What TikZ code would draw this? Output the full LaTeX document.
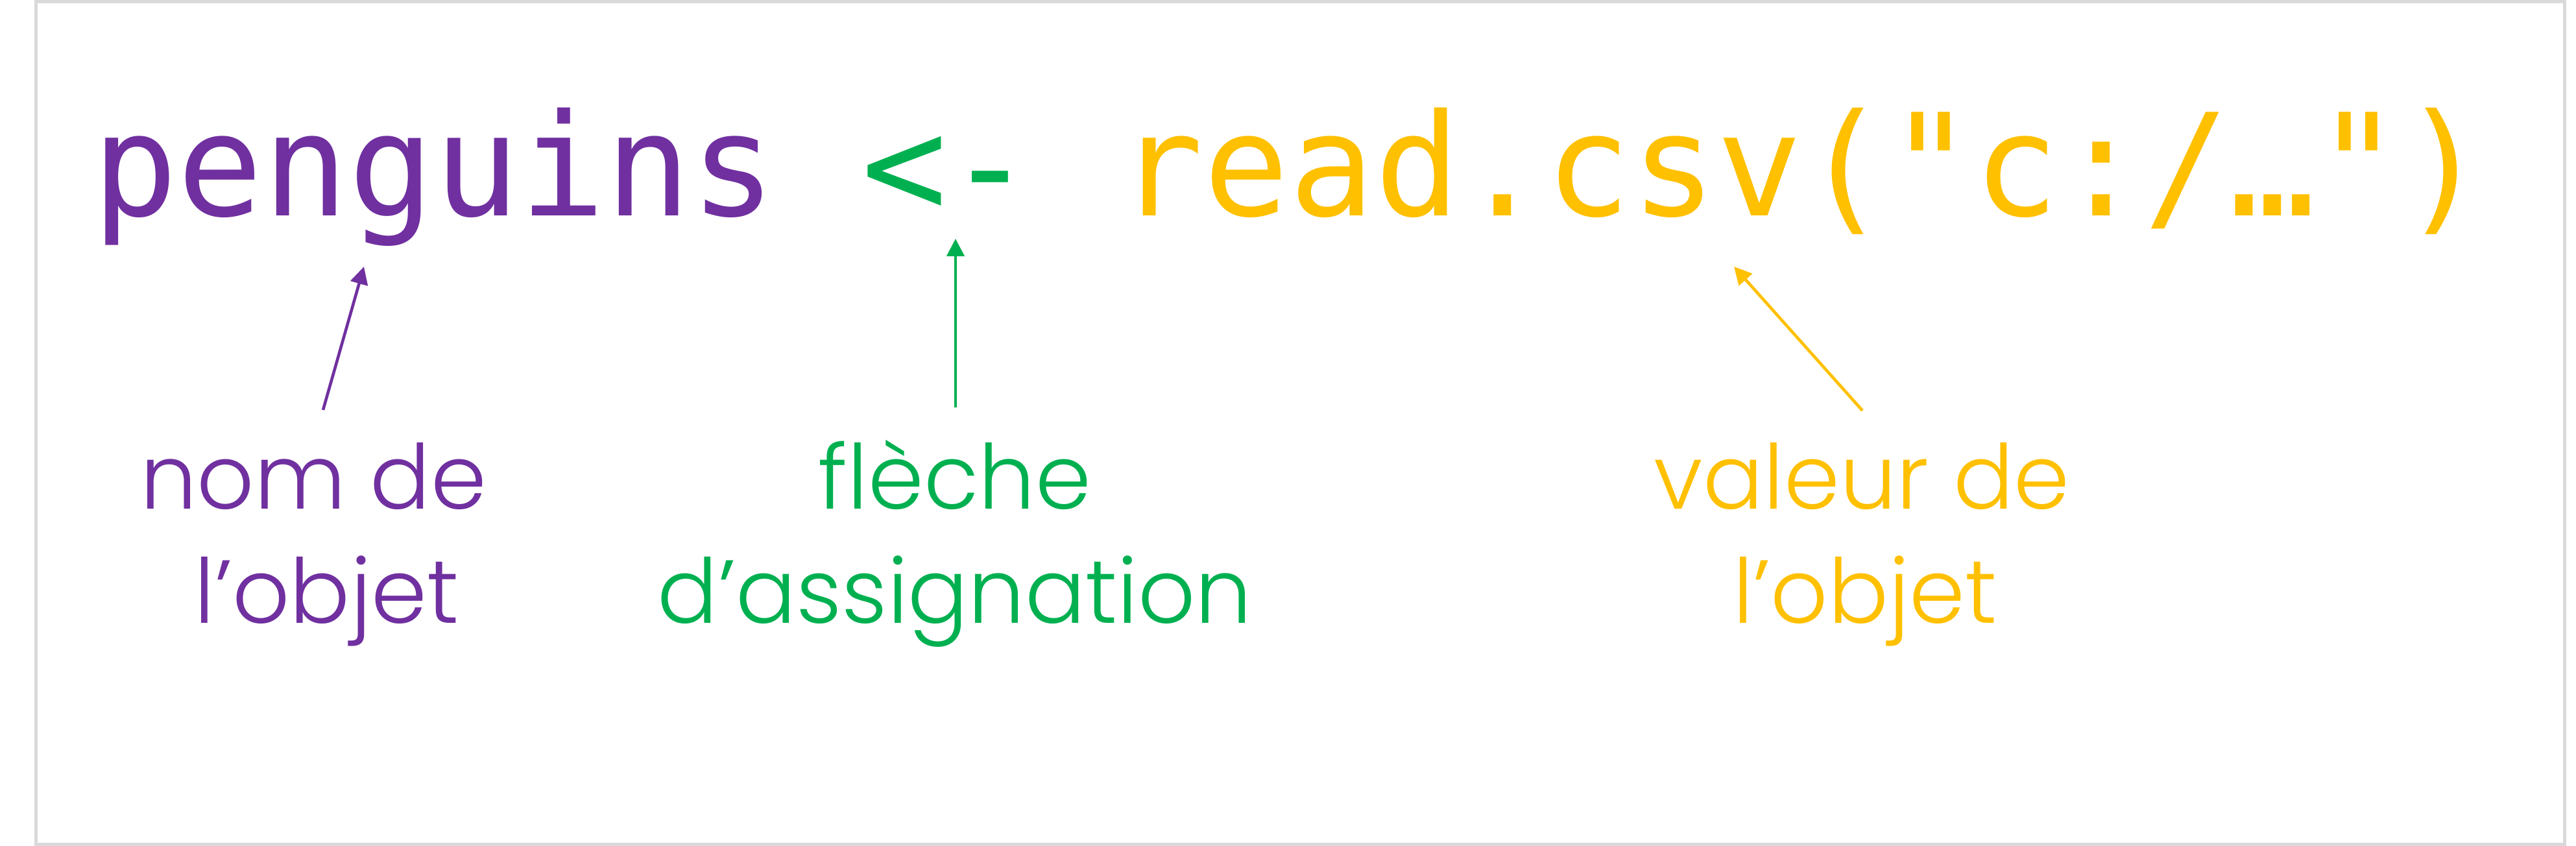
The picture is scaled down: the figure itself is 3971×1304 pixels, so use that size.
\documentclass[tikz,border=0pt]{standalone}
\usepackage{fontspec}
\usetikzlibrary{arrows.meta,calc}
\newfontfamily\codefont{DejaVu Sans Mono}
\newfontfamily\labfont{Poppins Light}
\definecolor{cpurple}{RGB}{112,48,160}
\definecolor{cgreen}{RGB}{0,176,80}
\definecolor{cgold}{RGB}{255,192,0}
\definecolor{cframe}{RGB}{217,217,217}
\tikzset{
  code/.style={inner sep=0pt, anchor=base west, font={\codefont\fontsize{43.8pt}{52pt}\selectfont}},
  lab/.style={inner sep=0pt, anchor=base, font={\labfont\fontsize{27.6pt}{34pt}\selectfont}},
  arr/.style={line width=0.92pt, -{Triangle[length=5.4pt,width=5.4pt]}},
}
\begin{document}
\begin{tikzpicture}[x=0.2pt,y=-0.2pt]
\useasboundingbox (0,0) rectangle (3971,1304);
\draw[cframe, line width=1pt] (55,3) rectangle (3953,1301);
% code line
\node[code, text=cpurple] (pen) at (141,333) {penguins};
\node[code, text=cgreen] (assign) at (1327.2,333) {<-};
\node[code, text=cgold] (val) at (1722.6,333) {read.csv("c:/…")};
% labels
\node[lab, text=cpurple] (lab1a) at (483,784) {nom de};
\node[lab, text=cpurple] (lab1b) at (503.5,960) {l’objet};
\node[lab, text=cgreen] (lab2a) at (1472,784) {flèche};
\node[lab, text=cgreen] (lab2b) at (1472,960) {d’assignation};
\node[lab, text=cgold] (lab3a) at (2870,784) {valeur de};
\node[lab, text=cgold] (lab3b) at (2875,960) {l’objet};
% arrow tips
\coordinate (tipP) at (561,411);
\coordinate (tipG) at (1473,368);
\coordinate (tipY) at (2673,411);
\draw[arr, cpurple] ($(lab1a.north)+(15,-49)$) -- (tipP);
\draw[arr, cgreen] ($(lab2a.north)+(1,-49)$) -- (tipG);
\draw[arr, cgold] ($(lab3a.north)+(1,-48)$) -- (tipY);
\end{tikzpicture}
\end{document}
